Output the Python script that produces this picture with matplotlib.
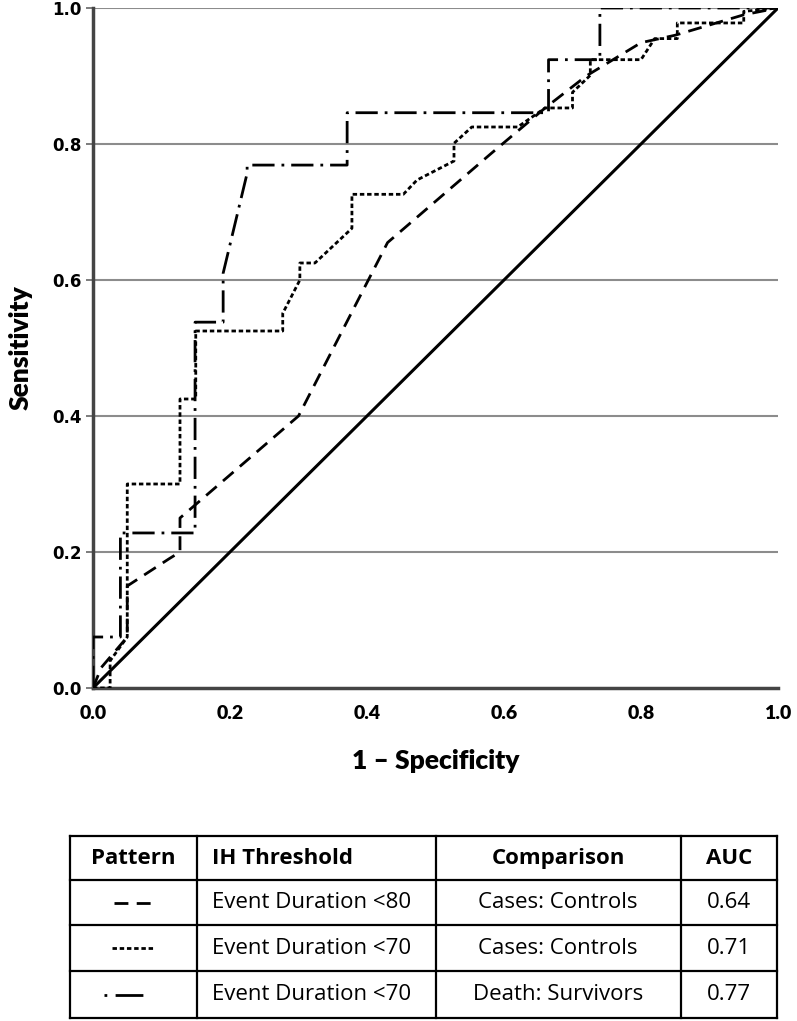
import numpy as np
import matplotlib.pyplot as plt

# ROC points
fpr_80 = [0.0, 0.012, 0.05, 0.05, 0.111, 0.127, 0.127, 0.30, 0.43, 0.58, 0.66, 0.72, 0.80, 0.85, 0.90, 0.95, 1.0]
tpr_80 = [0.0, 0.03, 0.075, 0.15, 0.19, 0.20, 0.25, 0.40, 0.655, 0.785, 0.853, 0.90, 0.949, 0.96, 0.975, 0.99, 1.0]

fpr_70 = [0.0, 0.025, 0.025, 0.05, 0.05, 0.127, 0.127, 0.15, 0.15, 0.277, 0.277, 0.302, 0.302, 0.324,
          0.378, 0.378, 0.453, 0.473, 0.527, 0.527, 0.553, 0.62, 0.66, 0.70, 0.70, 0.726, 0.726,
          0.80, 0.82, 0.853, 0.853, 0.95, 0.95, 1.0]
tpr_70 = [0.0, 0.0, 0.04, 0.075, 0.30, 0.30, 0.425, 0.425, 0.525, 0.525, 0.551, 0.60, 0.625, 0.625,
          0.676, 0.726, 0.726, 0.747, 0.775, 0.801, 0.825, 0.825, 0.853, 0.853, 0.876, 0.901, 0.924,
          0.924, 0.955, 0.955, 0.978, 0.978, 0.995, 1.0]

fpr_death = [0.0, 0.0, 0.04, 0.04, 0.149, 0.149, 0.19, 0.19, 0.225, 0.225, 0.371, 0.371, 0.665, 0.665, 0.74, 0.74, 1.0]
tpr_death = [0.0, 0.075, 0.075, 0.228, 0.228, 0.538, 0.538, 0.61, 0.757, 0.769, 0.769, 0.846, 0.846, 0.924, 0.924, 1.0, 1.0]

ticks = [0.0, 0.2, 0.4, 0.6, 0.8, 1.0]
tick_labels = ["0.0", "0.2", "0.4", "0.6", "0.8", "1.0"]

header = ["Pattern", "IH Threshold", "Comparison", "AUC"]
thresholds = ["Event Duration <80", "Event Duration <70", "Event Duration <70"]
comparisons = ["Cases: Controls", "Cases: Controls", "Death: Survivors"]
aucs = ["0.64", "0.71", "0.77"]

style_80 = (0, (5, 3))
style_70 = (0, (1.6, 1))
style_death = (0, (8, 2.5, 1, 2.5))
# short samples for the pattern column
sample_styles = [(0, (5, 3)), (0, (1.6, 1)), (0, (1, 3, 10, 3))]
sample_x = [(114, 152), (112, 155), (104, 143)]

W, H = 797, 1021
fig = plt.figure(figsize=(W / 100, H / 100), dpi=100)

ax = fig.add_axes([93 / W, 1 - 688 / H, 685 / W, 680 / H])
for y in ticks[1:]:
    ax.axhline(y, color="#8c8c8c", lw=1.5, zorder=1)
ax.plot([0, 1], [0, 1], color="black", lw=2.2, zorder=3)
ax.plot(fpr_80, tpr_80, color="black", lw=2, linestyle=style_80, zorder=3)
ax.plot(fpr_70, tpr_70, color="black", lw=2, linestyle=style_70, zorder=3)
ax.plot(fpr_death, tpr_death, color="black", lw=2, linestyle=style_death, zorder=3)

ax.set_xlim(0, 1)
ax.set_ylim(0, 1)
for s in ["top", "right"]:
    ax.spines[s].set_visible(False)
for s in ["left", "bottom"]:
    ax.spines[s].set_color("#444444")
    ax.spines[s].set_linewidth(2.5)
ax.set_yticks(ticks)
ax.set_yticklabels(tick_labels, fontsize=12, fontweight="bold", family="DejaVu Sans")
ax.set_xticks(ticks)
ax.set_xticklabels(tick_labels, fontsize=14, fontweight="heavy", family="Lato")
ax.tick_params(axis="y", length=5, width=1.2, color="#666666", pad=3)
ax.tick_params(axis="x", length=0, pad=12)
ax.set_ylabel("Sensitivity", fontsize=19, fontweight="heavy", family="Lato", labelpad=14)
ax.set_xlabel("1 \u2013 Specificity", fontsize=19, fontweight="heavy", family="Lato", labelpad=20)

# table below the chart
tx0, tx1 = 70, 777
ty0, ty1 = 836, 1018
tb = fig.add_axes([tx0 / W, 1 - ty1 / H, (tx1 - tx0) / W, (ty1 - ty0) / H])
tb.set_xlim(tx0, tx1)
tb.set_ylim(ty1, ty0)
tb.axis("off")
col_edges = [70, 197, 436, 681, 777]
row_edges = [836, 880, 925, 971, 1018]
for x in col_edges:
    tb.plot([x, x], [row_edges[0], row_edges[-1]], color="black", lw=1.6, clip_on=False)
for y in row_edges:
    tb.plot([col_edges[0], col_edges[-1]], [y, y], color="black", lw=1.6, clip_on=False)

row_mid = [(row_edges[i] + row_edges[i + 1]) / 2 for i in range(4)]
tfont = dict(family="Open Sans", fontsize=16, va="center")
tb.text(133, row_mid[0], header[0], ha="center", fontweight="bold", **tfont)
tb.text(212, row_mid[0], header[1], ha="left", fontweight="bold", **tfont)
tb.text(558, row_mid[0], header[2], ha="center", fontweight="bold", **tfont)
tb.text(729, row_mid[0], header[3], ha="center", fontweight="bold", **tfont)
for i in range(3):
    y = row_mid[i + 1]
    tb.plot(sample_x[i], [y, y], color="black", lw=2, linestyle=sample_styles[i])
    tb.text(212, y, thresholds[i], ha="left", **tfont)
    tb.text(558, y, comparisons[i], ha="center", **tfont)
    tb.text(729, y, aucs[i], ha="center", **tfont)

fig.savefig("out.png", dpi=100)
